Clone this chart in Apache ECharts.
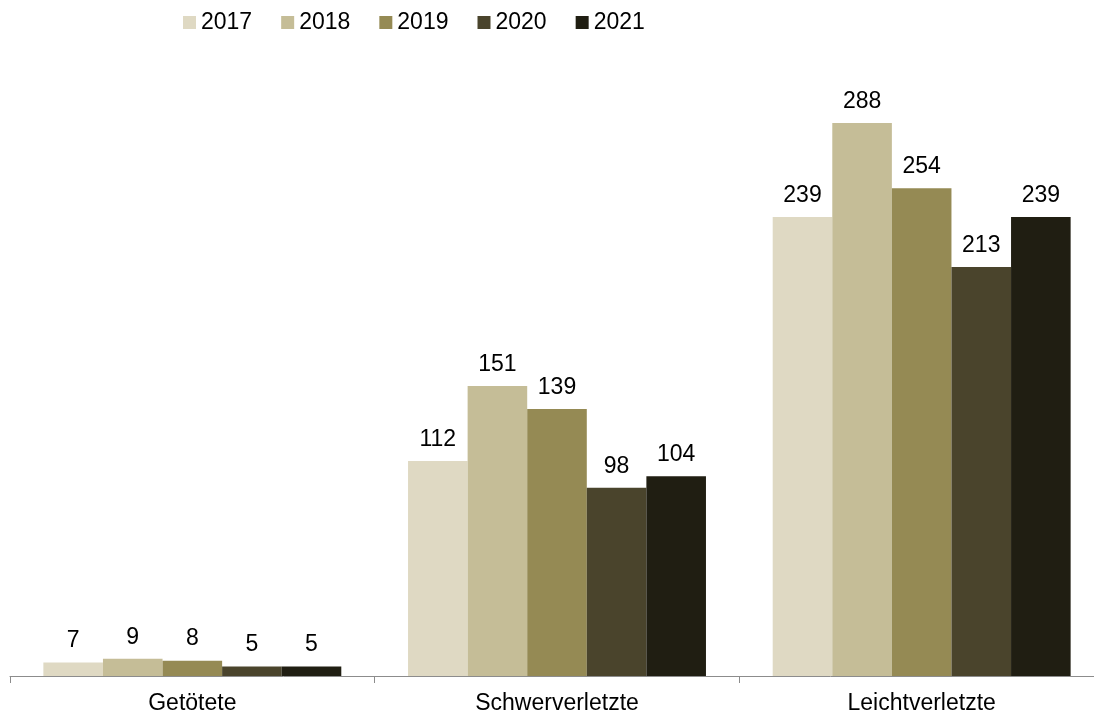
<!DOCTYPE html>
<html><head><meta charset="utf-8">
<script src="https://cdn.jsdelivr.net/npm/echarts@6/dist/echarts.min.js"></script>
<style>html,body{margin:0;padding:0;background:#fff;overflow:hidden}#c{width:1104px;height:720px}</style>
</head><body><div id="c"></div>
<script>
const categories = ["Getötete", "Schwerverletzte", "Leichtverletzte"];
const years = ["2017", "2018", "2019", "2020", "2021"];
const v2017 = [7, 112, 239];
const v2018 = [9, 151, 288];
const v2019 = [8, 139, 254];
const v2020 = [5, 98, 213];
const v2021 = [5, 104, 239];
const colors = ["#DFD9C3", "#C5BD97", "#958A54", "#4A442C", "#201E12"];
const values = [v2017, v2018, v2019, v2020, v2021];
const FONT = '"Liberation Sans", Arial, sans-serif';

const chart = echarts.init(document.getElementById('c'));
chart.setOption({
  animation: false,
  textStyle: { fontFamily: FONT },
  legend: {
    data: years, left: 183, top: 11, padding: 0, itemWidth: 13, itemHeight: 13, itemGap: 29,
    icon: 'rect', textStyle: { fontSize: 23, color: '#000', fontFamily: FONT }
  },
  grid: { left: 10, right: 0, top: 100, bottom: 44, containLabel: false },
  xAxis: {
    type: 'category', data: categories,
    axisLine: { lineStyle: { color: '#8c8c8c', width: 1 } },
    axisTick: { show: true, length: 7, lineStyle: { color: '#8c8c8c' } },
    axisLabel: { fontSize: 23, color: '#000', margin: 16, fontFamily: FONT }
  },
  yAxis: { type: 'value', min: 0, max: 300, show: false, splitLine: { show: false } },
  series: years.map((y, i) => ({
    name: y, type: 'bar', data: values[i],
    barGap: '0%', barCategoryGap: '18.3%',
    itemStyle: { color: colors[i] },
    label: { show: true, position: 'top', distance: 10, fontSize: 23, color: '#000', fontFamily: FONT }
  }))
});
</script></body></html>
